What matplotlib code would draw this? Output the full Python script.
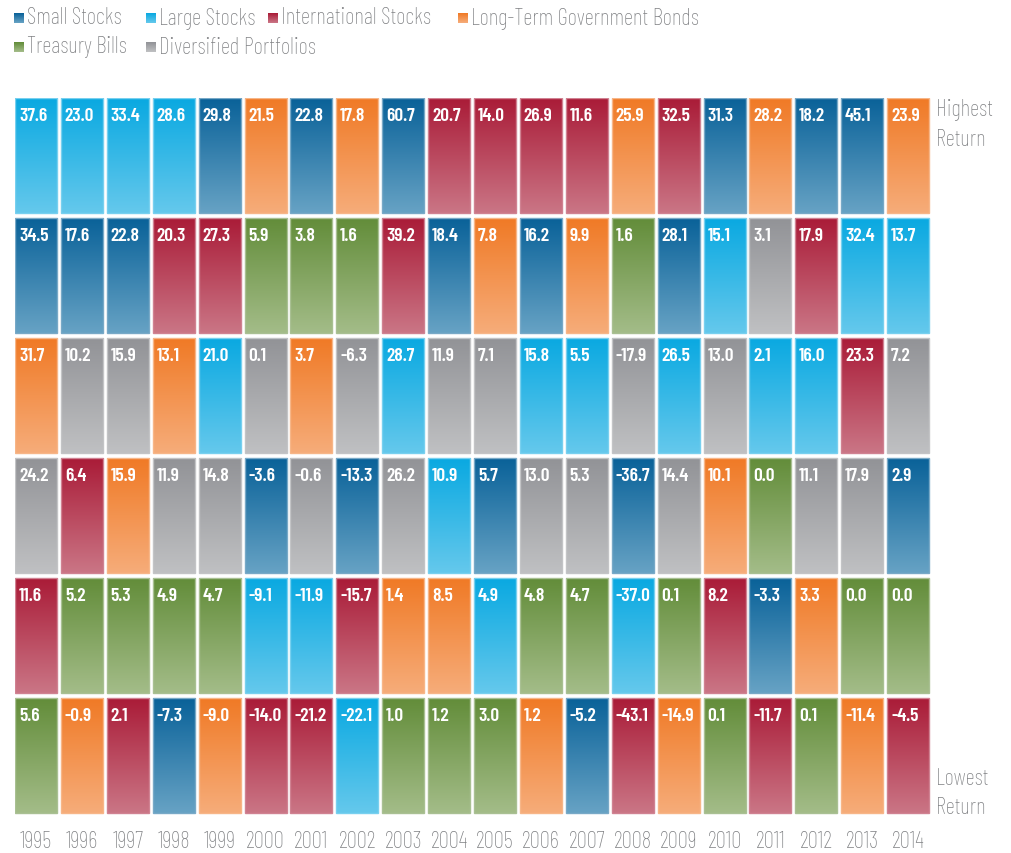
import numpy as np
import matplotlib
matplotlib.use('Agg')
import matplotlib.pyplot as plt
from matplotlib.patches import Rectangle
from matplotlib.colors import to_rgb

plt.rcParams['font.family'] = ['Barlow Condensed', 'Liberation Sans Narrow', 'DejaVu Sans']

# Data: per year, ranked from highest to lowest return
years = list(range(1995, 2015))

# asset class codes: S small, L large, I international, B bonds, T t-bills, D diversified
classes = {
    'S': 'Small Stocks',
    'L': 'Large Stocks',
    'I': 'International Stocks',
    'B': 'Long-Term Government Bonds',
    'T': 'Treasury Bills',
    'D': 'Diversified Portfolios',
}

ranked_codes = [
    'LSBDIT', 'LSDITB', 'LSDBTI', 'LIBDTS', 'SILDTB',
    'BTDSLI', 'STBDLI', 'BTDSIL', 'SILDBT', 'ISDLBT',
    'IBDSLT', 'ISLDTB', 'IBLDTS', 'BTDSLI', 'ISLDTB',
    'SLDBIT', 'BDLTSI', 'SILDBT', 'SLIDTB', 'BLDSTI',
]

ranked_values = [
    [37.6, 34.5, 31.7, 24.2, 11.6, 5.6],
    [23.0, 17.6, 10.2, 6.4, 5.2, -0.9],
    [33.4, 22.8, 15.9, 15.9, 5.3, 2.1],
    [28.6, 20.3, 13.1, 11.9, 4.9, -7.3],
    [29.8, 27.3, 21.0, 14.8, 4.7, -9.0],
    [21.5, 5.9, 0.1, -3.6, -9.1, -14.0],
    [22.8, 3.8, 3.7, -0.6, -11.9, -21.2],
    [17.8, 1.6, -6.3, -13.3, -15.7, -22.1],
    [60.7, 39.2, 28.7, 26.2, 1.4, 1.0],
    [20.7, 18.4, 11.9, 10.9, 8.5, 1.2],
    [14.0, 7.8, 7.1, 5.7, 4.9, 3.0],
    [26.9, 16.2, 15.8, 13.0, 4.8, 1.2],
    [11.6, 9.9, 5.5, 5.3, 4.7, -5.2],
    [25.9, 1.6, -17.9, -36.7, -37.0, -43.1],
    [32.5, 28.1, 26.5, 14.4, 0.1, -14.9],
    [31.3, 15.1, 13.0, 10.1, 8.2, 0.1],
    [28.2, 3.1, 2.1, 0.0, -3.3, -11.7],
    [18.2, 17.9, 16.0, 11.1, 3.3, 0.1],
    [45.1, 32.4, 23.3, 17.9, 0.0, -11.4],
    [23.9, 13.7, 7.2, 2.9, 0.0, -4.5],
]

# gradient colours (top, bottom)
grad = {
    'S': ('#0a6299', '#66a2c4'),
    'L': ('#0aa9e1', '#64c8ec'),
    'I': ('#aa1c38', '#ca7585'),
    'B': ('#f07a26', '#f6ac79'),
    'T': ('#638d3a', '#a3bc88'),
    'D': ('#929397', '#bfc0c2'),
}

TEXT_GREY = '#7f8083'
W, H = 1011, 854


def gradient_img(code, n=64):
    top = np.array(to_rgb(grad[code][0]))
    bot = np.array(to_rgb(grad[code][1]))
    t = np.linspace(0, 1, n)[:, None]
    return (top * (1 - t) + bot * t)[:, None, :]


def tint(code, amt=0.45):
    c = np.array(to_rgb(grad[code][0]))
    return tuple(c + (1 - c) * amt)


fig = plt.figure(figsize=(W / 100, H / 100), dpi=100)
fig.patch.set_facecolor('white')

# main grid axes: columns = years, rows = rank
ax = fig.add_axes([15 / W, 1 - 819 / H, 918 / W, 720 / H])
ax.axis('off')

cw = 42 / 45.9   # cell width in column units
ch = 115 / 120   # cell height in row units

for i, yr in enumerate(years):
    for j in range(6):
        code = ranked_codes[i][j]
        ax.imshow(gradient_img(code), extent=(i, i + cw, j + ch, j),
                  origin='upper', aspect='auto', interpolation='bilinear', zorder=1)
        ax.add_patch(Rectangle((i, j), cw, ch, fill=False, lw=1.0,
                               edgecolor=tint(code), zorder=2))
        ax.text(i + 0.085, j + 0.145, f'{ranked_values[i][j]:.1f}', color='white',
                fontsize=14, fontweight='semibold', ha='left', va='center', zorder=3)
    ax.text(i + cw / 2, 6.19, str(yr), color=TEXT_GREY, fontsize=16.5, fontweight='light',
            ha='center', va='center', clip_on=False)

ax.set_xlim(0, len(years))
ax.set_ylim(6, 0)

side_kw = dict(color=TEXT_GREY, fontsize=16.5, fontweight='light', ha='left', va='center', clip_on=False)
ax.text(20.07, 0.095, 'Highest', **side_kw)
ax.text(20.07, 0.34, 'Return', **side_kw)
ax.text(20.07, 5.665, 'Lowest', **side_kw)
ax.text(20.07, 5.91, 'Return', **side_kw)

# legend on an overlay axes in pixel units
lax = fig.add_axes([0, 0, 1, 1])
lax.axis('off')

legend_layout = [
    ('S', 14, 18.5), ('L', 146, 18.5), ('I', 268, 18.5), ('B', 458, 18.5),
    ('T', 14, 47.5), ('D', 146, 47.5),
]
for code, x, y in legend_layout:
    lax.imshow(gradient_img(code, 16), extent=(x, x + 10, y + 5, y - 5),
               origin='upper', aspect='auto', interpolation='bilinear')
    lax.text(x + 13, y, classes[code], color=TEXT_GREY, fontsize=16.5,
             fontweight='light', ha='left', va='center')
lax.set_xlim(0, W)
lax.set_ylim(H, 0)

fig.savefig('out.png', dpi=100, facecolor='white')
